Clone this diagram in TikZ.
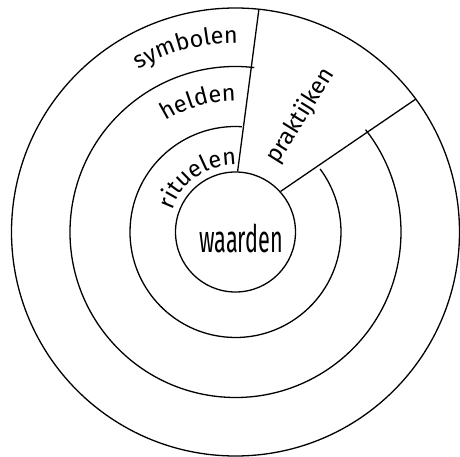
\documentclass[tikz,border=0pt]{standalone}
\usepackage{fontspec}
\usepackage{tikz}
\usetikzlibrary{decorations.text}
\setmainfont{Fira Sans}
\newfontfamily\lblfont{Fira Sans}
\newfontfamily\corefont[FakeStretch=0.57]{Fira Sans}
\newcommand\lblsize{\fontsize{23.5}{25}\selectfont}

\begin{document}
\begin{tikzpicture}[x=1pt, y=1pt,
    ring/.style={draw, line width=1.3pt},
    cut/.style={draw, line width=1.3pt},
    core/.style={circle, draw, line width=1.3pt, minimum size=120pt, inner sep=0pt},
    corelbl/.style={font=\corefont\fontsize{38}{40}\selectfont, inner sep=0pt},
    lbl/.style={font=\lblfont\lblsize, inner sep=0pt},
    arclbl/.style={decorate, decoration={text along path, text align=center}}]

\useasboundingbox (-235.5,-225) rectangle (224.5,232);

%% Core: waarden
\node[core] (core) at (0,0) {};
\node[corelbl] (waarden) at (5.5,-6.5) {waarden};

%% Rings, left open where the praktijken wedge cuts through
\draw[ring] (86.5:105.5) arc[start angle=86.5, end angle=396.7, radius=105.5];
\draw[ring] (83.5:165.5) arc[start angle=83.5, end angle=398.2, radius=165.5];
\draw[ring] (0,0) circle (224);

%% Praktijken wedge
\coordinate (rimA) at (84:224);
\coordinate (rimB) at (36.4:224);
\draw[cut] (core.88.6) -- (rimA);
\draw[cut] (core.42) -- (rimB);

%% Layer labels
\path[arclbl, decoration={text={|\lblfont\lblsize|rituelen}}]
    (170:67) arc[start angle=170, end angle=80, radius=67];
\path[arclbl, decoration={text={|\lblfont\lblsize|helden}}]
    (136:131) arc[start angle=136, end angle=76, radius=131];
\path[arclbl, decoration={text={|\lblfont\lblsize|symbolen}}]
    (135:189) arc[start angle=135, end angle=75, radius=189];
\node[lbl, rotate=58] (praktijken) at (60.7:133) {praktijken};

\end{tikzpicture}
\end{document}
